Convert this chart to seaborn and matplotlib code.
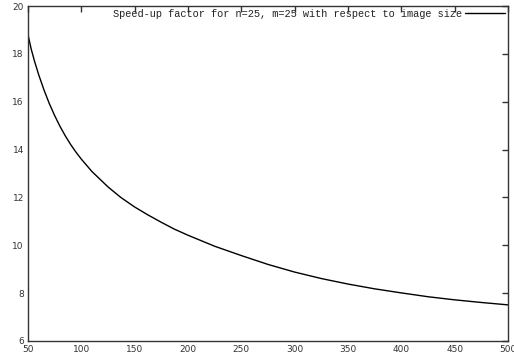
import matplotlib
matplotlib.use("Agg")
import matplotlib.pyplot as plt
import seaborn as sns
import pandas as pd

# Data
image_size = [50, 53, 56, 60, 65, 70, 75, 80, 85, 90, 95, 100, 110, 125, 137,
              150, 162, 175, 187, 200, 225, 250, 275, 300, 325, 350, 375, 400,
              425, 450, 475, 500]
speedup = [18.8, 18.2, 17.71, 17.13, 16.49, 15.92, 15.42, 14.97, 14.57, 14.21,
           13.89, 13.6, 13.08, 12.44, 12.0, 11.6, 11.28, 10.96, 10.68, 10.42,
           9.96, 9.57, 9.2, 8.88, 8.61, 8.38, 8.18, 8.01, 7.85, 7.72, 7.61, 7.51]
x_ticks = [50, 100, 150, 200, 250, 300, 350, 400, 450, 500]
y_ticks = [6, 8, 10, 12, 14, 16, 18, 20]
label = "Speed-up factor for n=25, m=25 with respect to image size"

df = pd.DataFrame({"size": image_size, "speedup": speedup})

sns.set_style("white")
plt.rcParams["font.family"] = ["DejaVu Sans"]

fig = plt.figure(figsize=(5.14, 3.6), dpi=100)
ax = fig.add_axes([28 / 514, 1 - 341 / 360, 480 / 514, 335 / 360])

sns.lineplot(data=df, x="size", y="speedup", ax=ax, color="black",
             linewidth=1.0, label=label)

ax.set_xlim(50, 500)
ax.set_ylim(6, 20)
ax.set_xticks(x_ticks)
ax.set_yticks(y_ticks)
ax.set_xlabel("")
ax.set_ylabel("")
ax.tick_params(axis="both", which="both", direction="in", length=4, width=1,
               top=True, right=True, labelsize=6.5, labelcolor="#333333",
               color="#333333", pad=3)
for s in ax.spines.values():
    s.set_color("#333333")
    s.set_linewidth(1.0)

leg = ax.legend(loc="upper right", frameon=False, markerfirst=False,
                prop={"family": "Liberation Mono", "size": 7.4},
                handlelength=3.9, handletextpad=0.3,
                borderaxespad=0.25, borderpad=0.0)
for t in leg.get_texts():
    t.set_color("#222222")

fig.savefig("out.png", dpi=100)
